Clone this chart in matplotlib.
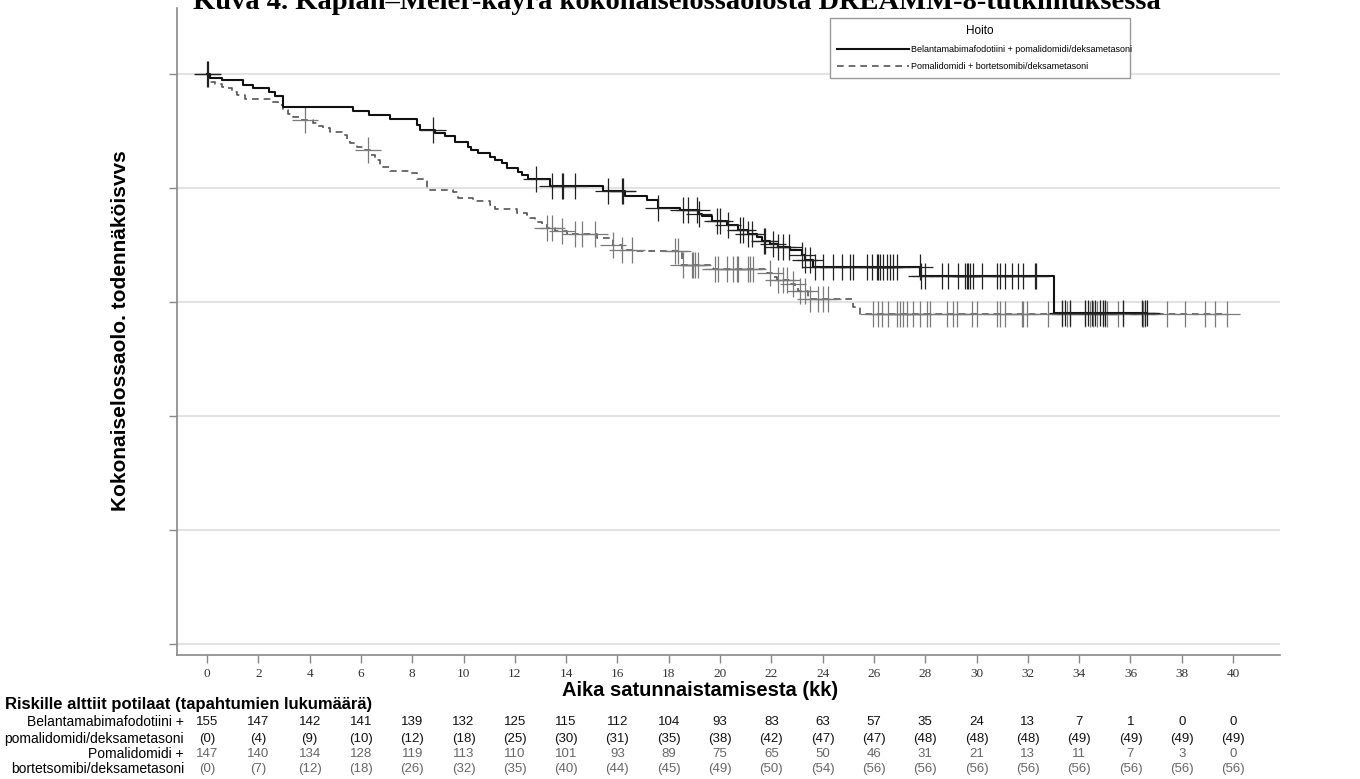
import matplotlib.pyplot as plt
import matplotlib.transforms as mtransforms
import numpy as np

# Kaplan-Meier steps (months, survival probability)
bel_t = [0, 0.1, 0.57, 1.42, 1.81, 2.42, 2.65, 2.98, 5.70, 6.32, 7.13, 8.17, 8.30,
         8.89, 9.28, 9.67, 10.19, 10.28, 10.58, 11.03, 11.23, 11.49, 11.68, 12.14,
         12.27, 12.53, 13.37, 15.45, 16.30, 17.14, 17.60, 18.44, 19.15, 19.29, 19.68,
         20.26, 20.71, 21.10, 21.43, 21.62, 21.95, 22.27, 22.73, 23.18, 23.30, 23.64,
         27.80, 33.00, 36.64]
bel_s = [1.0, 0.993, 0.988, 0.980, 0.974, 0.967, 0.961, 0.942, 0.934, 0.927, 0.921,
         0.910, 0.901, 0.896, 0.890, 0.880, 0.872, 0.866, 0.860, 0.854, 0.848, 0.843,
         0.834, 0.828, 0.822, 0.815, 0.803, 0.795, 0.785, 0.778, 0.765, 0.760, 0.754,
         0.750, 0.742, 0.734, 0.726, 0.719, 0.714, 0.707, 0.701, 0.696, 0.691, 0.682,
         0.673, 0.661, 0.645, 0.581, 0.581]

pom_t = [0, 0.05, 0.12, 0.31, 0.57, 0.77, 0.96, 1.16, 1.48, 2.52, 2.78, 2.98, 3.17,
         3.37, 3.63, 4.15, 4.34, 4.53, 4.80, 5.25, 5.45, 5.58, 5.84, 6.10, 6.35, 6.55,
         6.74, 7.13, 7.91, 8.17, 8.56, 9.60, 9.80, 10.38, 11.03, 11.23, 12.07, 12.46,
         12.59, 12.79, 13.05, 13.24, 13.57, 14.02, 15.19, 15.84, 16.17, 16.62, 18.50,
         19.60, 19.74, 21.82, 22.01, 22.21, 22.73, 22.92, 23.05, 23.44, 25.20, 25.46,
         39.77]
pom_s = [1.0, 0.993, 0.986, 0.981, 0.977, 0.974, 0.968, 0.962, 0.955, 0.951, 0.945,
         0.936, 0.930, 0.924, 0.918, 0.913, 0.909, 0.904, 0.898, 0.892, 0.886, 0.879,
         0.872, 0.866, 0.857, 0.848, 0.837, 0.829, 0.825, 0.816, 0.796, 0.793, 0.782,
         0.777, 0.770, 0.762, 0.756, 0.752, 0.746, 0.740, 0.734, 0.729, 0.724, 0.718,
         0.711, 0.699, 0.691, 0.689, 0.664, 0.660, 0.657, 0.650, 0.644, 0.638, 0.632,
         0.625, 0.618, 0.604, 0.591, 0.578, 0.578]

# censoring times
bel_cens = [0, 0.03, 8.8, 12.81, 13.43, 13.83, 13.89, 14.35, 15.65, 16.17, 16.23, 17.6,
            18.57, 18.76, 19.12, 19.17, 19.87, 20.0, 20.32, 20.78, 20.9, 21.1, 21.24,
            21.73, 21.77, 22.08, 22.27, 22.47, 22.69, 23.18, 23.31, 23.5, 23.7, 24.03,
            24.42, 24.74, 25.07, 25.2, 25.72, 25.91, 26.11, 26.17, 26.24, 26.37, 26.5,
            26.63, 26.76, 26.89, 27.78, 27.82, 27.99, 28.64, 28.9, 29.29, 29.55, 29.62,
            29.68, 29.75, 29.88, 30.2, 30.79, 30.92, 31.11, 31.37, 31.63, 31.83, 32.26,
            32.3, 33.32, 33.45, 33.65, 34.23, 34.36, 34.49, 34.62, 34.81, 34.94, 35.0,
            35.72, 36.44, 36.57, 36.64]
pom_cens = [3.82, 6.29, 13.24, 13.43, 13.83, 14.35, 14.61, 15.13, 15.84, 16.17, 16.56,
            18.25, 18.37, 18.57, 18.9, 18.96, 19.02, 19.15, 19.8, 19.94, 20.26, 20.52,
            20.65, 20.71, 21.1, 21.17, 21.3, 21.95, 22.27, 22.47, 22.6, 22.86, 23.12,
            23.31, 23.5, 23.83, 24.03, 24.22, 25.98, 26.17, 26.3, 26.56, 26.89, 27.02,
            27.15, 27.28, 27.54, 27.8, 28.06, 28.19, 28.84, 29.1, 29.23, 29.81, 30.0,
            30.79, 30.92, 31.11, 31.76, 31.83, 31.96, 32.8, 33.32, 33.52, 33.65, 34.23,
            34.42, 34.55, 34.68, 34.94, 35.0, 35.07, 35.52, 35.72, 36.44, 36.5, 36.57,
            37.41, 38.13, 38.9, 39.3, 39.77]

months = list(range(0, 41, 2))
bel_risk = [155, 147, 142, 141, 139, 132, 125, 115, 112, 104, 93, 83, 63, 57, 35, 24, 13, 7, 1, 0, 0]
bel_events = [0, 4, 9, 10, 12, 18, 25, 30, 31, 35, 38, 42, 47, 47, 48, 48, 48, 49, 49, 49, 49]
pom_risk = [147, 140, 134, 128, 119, 113, 110, 101, 93, 89, 75, 65, 50, 46, 31, 21, 13, 11, 7, 3, 0]
pom_events = [0, 7, 12, 18, 26, 32, 35, 40, 44, 45, 49, 50, 54, 56, 56, 56, 56, 56, 56, 56, 56]

bel_label = "Belantamabimafodotiini + pomalidomidi/deksametasoni"
pom_label = "Pomalidomidi + bortetsomibi/deksametasoni"
title = "Kuva 4. Kaplan\u2013Meier-käyrä kokonaiselossaolosta DREAMM-8-tutkimuksessa"

plt.rcParams['font.family'] = ['Liberation Sans', 'DejaVu Sans']

W, H = 1360, 779
fig = plt.figure(figsize=(W / 100, H / 100), dpi=100)
ax = fig.add_axes([177 / W, 1 - 655 / H, (1280 - 177) / W, (655 - 8) / H])


def at(tt, ss, c):
    idx = np.searchsorted(tt, c, side='right') - 1
    return np.asarray(ss)[idx]


ax.step(bel_t, bel_s, where='post', color='#111111', lw=1.5, label=bel_label, zorder=4)
ax.step(pom_t, pom_s, where='post', color='#555555', lw=1.2, dashes=(4, 3),
        label=pom_label, zorder=3)
ax.plot(pom_cens, at(pom_t, pom_s, pom_cens), ls='none', marker='+', ms=19, mew=0.9,
        color='#7a7a7a', zorder=3)
ax.plot(bel_cens, at(bel_t, bel_s, bel_cens), ls='none', marker='+', ms=19, mew=0.9,
        color='#222222', zorder=4)

ax.set_xlim(-1.17, 41.83)
ax.set_ylim(-0.0193, 1.115)
ax.set_xticks(months)
ax.set_xticklabels([str(m) for m in months], family='Liberation Serif', fontsize=9.5,
                   color='#333333')
ax.set_yticks([0, 0.2, 0.4, 0.6, 0.8, 1.0])
ax.set_yticklabels([])
ax.tick_params(axis='both', color='#888888', length=6, width=1)
ax.grid(axis='y', color='#e3e3e3', lw=1.5)
ax.set_axisbelow(True)
for side in ('top', 'right'):
    ax.spines[side].set_visible(False)
for side in ('left', 'bottom'):
    ax.spines[side].set_color('#888888')
    ax.spines[side].set_linewidth(1.2)

leg = ax.legend(loc='upper left', bbox_to_anchor=(0.592, 0.876, 0.272, 0.109),
                mode='expand', title='Hoito', fontsize=6.5, title_fontsize=8.5,
                handlelength=8, handletextpad=0.2, labelspacing=0.9, borderpad=0.8,
                fancybox=False, framealpha=1, borderaxespad=0)
leg.get_frame().set_edgecolor('#999999')
leg.get_frame().set_linewidth(1)

fig.text(677 / W, 1 - 9 / H, title, family='Liberation Serif', weight='bold',
         fontsize=20.5, ha='center', va='baseline')
fig.text(120 / W, 1 - 331 / H, "Kokonaiselossaolo. todennäköisvvs", rotation=90,
         weight='bold', fontsize=15, ha='center', va='center')
fig.text(700 / W, 1 - 690 / H, "Aika satunnaistamisesta (kk)", weight='bold',
         fontsize=14.5, ha='center', va='center')

# risk table
fig.text(5 / W, 1 - 705 / H, "Riskille alttiit potilaat (tapahtumien lukumäärä)",
         weight='bold', fontsize=12, ha='left', va='center')
row_y = [722, 739, 754, 769]
row_names = ["Belantamabimafodotiini +", "pomalidomidi/deksametasoni",
             "Pomalidomidi +", "bortetsomibi/deksametasoni"]
for name, yy in zip(row_names, row_y):
    fig.text(184 / W, 1 - yy / H, name, fontsize=10, ha='right', va='center')

trans = mtransforms.blended_transform_factory(ax.transData, fig.transFigure)
num_font = ['Liberation Sans Narrow', 'Liberation Sans']
rows = [(bel_risk, '{}', '#111111'), (bel_events, '({})', '#111111'),
        (pom_risk, '{}', '#666666'), (pom_events, '({})', '#666666')]
for (vals, fmt, col), yy in zip(rows, row_y):
    for m, v in zip(months, vals):
        ax.text(m, 1 - yy / H, fmt.format(v), transform=trans, fontsize=9.5,
                family=num_font, color=col, ha='center', va='center', clip_on=False)

fig.savefig('out.png', dpi=100)
